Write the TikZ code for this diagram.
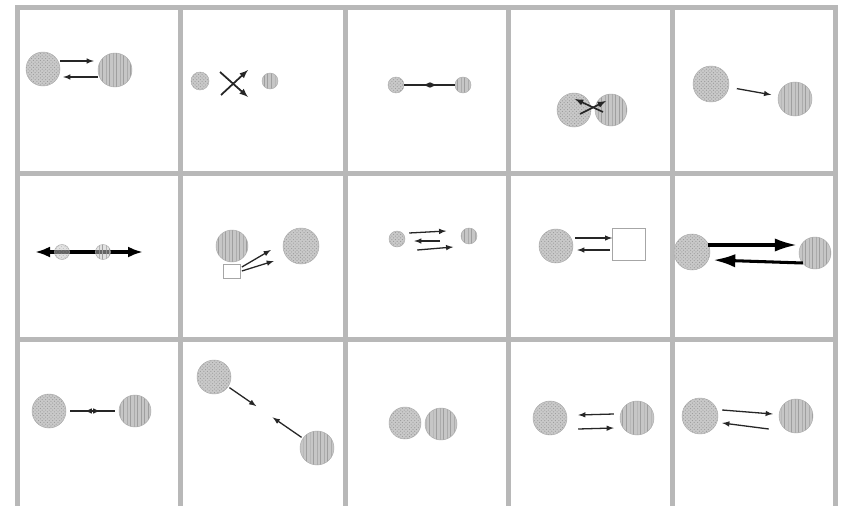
\documentclass[tikz,border=0pt]{standalone}
\usepackage{tikz}
\usetikzlibrary{calc,patterns,arrows.meta}
\definecolor{panelgray}{RGB}{184,184,184}
\tikzset{my arrow/.style={
  black!85,
  line width=1.1pt,
  -latex
  }
}
\tikzset{big arrow/.style={
  black,
  line width=2.6pt,
  -{Latex[length=0.66cm,width=0.4cm]}
  }
}
\tikzset{dot ball/.style={circle,inner sep=0pt,minimum size=#1*0.03cm,
  draw=gray!65,preaction={fill=gray!42},pattern=crosshatch dots,pattern color=gray!80}}
\tikzset{stripe ball/.style={circle,inner sep=0pt,minimum size=#1*0.03cm,
  draw=gray!65,preaction={fill=gray!45},pattern=vertical lines,pattern color=gray!75}}
\tikzset{open box/.style={rectangle,inner sep=0pt,draw=gray!70,fill=white,line width=0.6pt}}
\tikzset{panel line/.style={panelgray,line width=0.15cm,line cap=rect}}

\begin{document}
\begin{tikzpicture}[x=0.03cm,y=-0.03cm]
    \useasboundingbox (0,0) rectangle (844,505);
    \fill[white] (0,0) rectangle (844,505);

    \foreach \x in {17,180,345,508,672,835}
        \draw[panel line] (\x,7) -- (\x,512);
    \foreach \y in {7,173,339}
        \draw[panel line] (17,\y) -- (835,\y);

    % row 1
    \node[dot ball=34]    (a1) at (43,69) {};
    \node[stripe ball=34] (b1) at (115,70) {};
    \draw[my arrow] ($(a1.east)+(0,-8)$) to ($(b1.west)+(-4,-9)$);
    \draw[my arrow] ($(b1.west)+(0,7)$) to ($(a1.east)+(3,8)$);

    \node[dot ball=18]    (a2) at (200,81) {};
    \node[stripe ball=16] (b2) at (270,81) {};
    \coordinate (x2) at (234,84);
    \draw[my arrow,line width=1.5pt] ($(x2)+(-13,11)$) to ($(x2)+(14,-14)$);
    \draw[my arrow,line width=1.5pt] ($(x2)+(-14,-12)$) to ($(x2)+(14,13)$);

    \node[dot ball=16]    (a3) at (396,85) {};
    \node[stripe ball=16] (b3) at (463,85) {};
    \draw[my arrow] (a3.east) to ($(a3.east)+(33,0)$);
    \draw[my arrow] (b3.west) to ($(b3.west)+(-32,0)$);

    \node[dot ball=34]    (a4) at (574,110) {};
    \node[stripe ball=32] (b4) at (611,110) {};
    \draw[my arrow,line width=1.4pt] ($(a4)+(29,2)$) to ($(a4)+(1,-11)$);
    \draw[my arrow,line width=1.4pt] ($(a4)+(6,4)$) to ($(a4)+(32,-9)$);

    \node[dot ball=36]    (a5) at (711,84) {};
    \node[stripe ball=34] (b5) at (795,99) {};
    \draw[my arrow,shorten <=0.24cm,shorten >=0.21cm] (a5) to (b5);

    % row 2
    \coordinate (m6) at (82,252);
    \draw[big arrow,line width=2.8pt,{Latex[length=0.45cm,width=0.33cm]}-{Latex[length=0.45cm,width=0.33cm]}]
        ($(m6)+(-47,0)$) to ($(m6)+(61,0)$);
    \node[dot ball=15,fill opacity=0.5]    (a6) at (62,252) {};
    \node[stripe ball=15,fill opacity=0.5] (b6) at (103,252) {};

    \node[stripe ball=32] (b7) at (232,246) {};
    \node[dot ball=36]    (a7) at (301,246) {};
    \node[open box,minimum width=17*0.03cm,minimum height=14*0.03cm] (s7) at (232,271) {};
    \draw[my arrow] ($(s7.east)+(1,-4)$) to ($(s7.east)+(30,-21)$);
    \draw[my arrow] ($(s7.east)+(1,0)$) to ($(s7.east)+(33,-10)$);

    \node[dot ball=16]    (a8) at (397,239) {};
    \node[stripe ball=16] (b8) at (469,236) {};
    \draw[my arrow] ($(a8.east)+(4,-6)$) to ($(a8.east)+(41,-8)$);
    \draw[my arrow] ($(a8.east)+(35,2)$) to ($(a8.east)+(9,2)$);
    \draw[my arrow] ($(a8.east)+(12,11)$) to ($(a8.east)+(48,8)$);

    \node[dot ball=34] (a9) at (556,246) {};
    \node[open box,minimum width=33*0.03cm,minimum height=32*0.03cm] (s9) at (629,244) {};
    \draw[my arrow] ($(a9.east)+(2,-8)$) to ($(s9.west)+(0,-6)$);
    \draw[my arrow] ($(s9.west)+(-2,6)$) to ($(a9.east)+(4,4)$);

    \node[dot ball=36]    (a10) at (692,252) {};
    \node[stripe ball=32] (b10) at (815,253) {};
    \draw[big arrow] ($(a10.east)+(-2,-7)$) to ($(b10.west)+(-2,-8)$);
    \draw[big arrow] ($(b10.west)+(4,10)$) to ($(a10.east)+(3,8)$);

    % row 3
    \node[dot ball=34]    (a11) at (49,411) {};
    \node[stripe ball=32] (b11) at (135,411) {};
    \draw[my arrow] ($(a11.east)+(4,0)$) to ($(a11.east)+(34,0)$);
    \draw[my arrow] ($(b11.west)+(-4,0)$) to ($(b11.west)+(-34,0)$);

    \node[dot ball=34]    (a12) at (214,377) {};
    \node[stripe ball=34] (b12) at (317,448) {};
    \draw[my arrow] ($(a12)!0.15!(b12)$) to ($(a12)!0.41!(b12)$);
    \draw[my arrow] ($(b12)!0.15!(a12)$) to ($(b12)!0.43!(a12)$);

    \node[dot ball=32]    (a13) at (405,423) {};
    \node[stripe ball=32] (b13) at (441,424) {};

    \node[dot ball=34]    (a14) at (550,418) {};
    \node[stripe ball=34] (b14) at (637,418) {};
    \draw[my arrow] ($(b14.west)+(-6,-4)$) to ($(a14.east)+(11,-3)$);
    \draw[my arrow] ($(a14.east)+(11,11)$) to ($(b14.west)+(-6,10)$);

    \node[dot ball=36]    (a15) at (700,416) {};
    \node[stripe ball=34] (b15) at (796,416) {};
    \draw[my arrow] ($(a15.east)+(4,-6)$) to ($(b15.west)+(-6,-2)$);
    \draw[my arrow] ($(b15.west)+(-10,13)$) to ($(a15.east)+(4,7)$);

\end{tikzpicture}
\end{document}
